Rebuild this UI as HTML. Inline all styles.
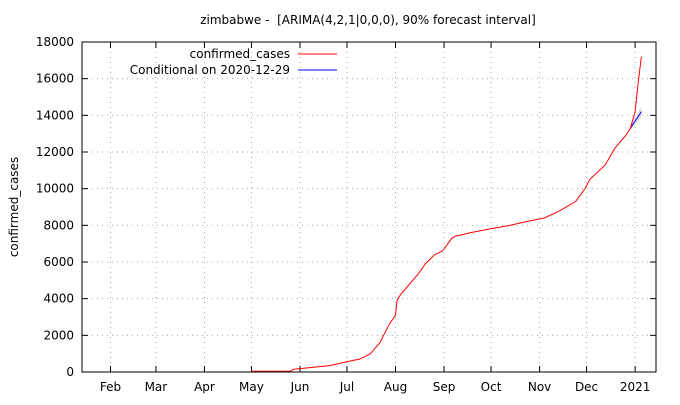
<!DOCTYPE html>
<html><head><meta charset="utf-8"><style>
body{margin:0;background:#fff}
svg text{font-family:"DejaVu Sans","Liberation Sans",sans-serif;font-size:12px;fill:#000}
</style></head><body>
<svg id="c" width="680" height="400"></svg>
<script>
const monthLabels=["Feb","Mar","Apr","May","Jun","Jul","Aug","Sep","Oct","Nov","Dec","2021"];
const monthDays=[0,29,60,90,121,151,182,213,243,274,304,335];
const yTicks=[0,2000,4000,6000,8000,10000,12000,14000,16000,18000];
const caseDays=[90,115,117,140,153,159,166,167,172,178,182,183,185,191,197,201,207,212,218,220,230,242,255,268,277,287,297,303,306,316,322,329,332,335,337,339];
const caseValues=[40,50,150,350,600,700,1000,1100,1600,2600,3100,3900,4200,4800,5400,5900,6400,6600,7300,7400,7600,7800,8000,8250,8400,8800,9300,10000,10500,11300,12200,12900,13300,14200,15800,17200];
const fcDays=[332,339];
const fcValues=[13300,14200];
const fcLow=[13200,13900];
const fcHigh=[13400,14500];
const L=82,R=656,T=42,B=372;
const X=d=>110.5+d*1.566, Y=v=>B-(v/18000)*(B-T);
const svg=document.getElementById('c');const NS='http://www.w3.org/2000/svg';
function mk(t,a,p){const e=document.createElementNS(NS,t);for(const k in a)e.setAttribute(k,a[k]);(p||svg).appendChild(e);return e;}
yTicks.forEach(v=>{
 const g=mk('line',{x1:L,x2:R,y1:Y(v),y2:Y(v),stroke:'#aaa','stroke-dasharray':'1,4'});
 
 
 mk('line',{x1:L,x2:L+6,y1:Y(v),y2:Y(v),stroke:'#000'});
 mk('line',{x1:R,x2:R-6,y1:Y(v),y2:Y(v),stroke:'#000'});
 const t=mk('text',{x:L-8,y:Y(v)+4,'text-anchor':'end'});t.textContent=v;
 
 
});
monthDays.forEach((d,i)=>{
 const x=X(d);
 const g=mk('line',{x1:x,x2:x,y1:T,y2:B,stroke:'#aaa','stroke-dasharray':'1,4'});
 
 
 mk('line',{x1:x,x2:x,y1:B,y2:B-6,stroke:'#000'});
 mk('line',{x1:x,x2:x,y1:T,y2:T+6,stroke:'#000'});
 const t=mk('text',{x:x,y:B+19,'text-anchor':'middle'});t.textContent=monthLabels[i];
 
 
});
const band=mk('polygon',{points:fcDays.map((d,i)=>X(d)+','+Y(fcHigh[i])).concat(fcDays.slice().reverse().map((d,j)=>{const i=fcDays.length-1-j;return X(d)+','+Y(fcLow[i]);})).join(' '),fill:'#ddd'});


const fc=mk('polyline',{points:fcDays.map((d,i)=>X(d)+','+Y(fcValues[i])).join(' '),fill:'none',stroke:'#00f'});


const cl=mk('polyline',{points:caseDays.map((d,i)=>X(d)+','+Y(caseValues[i])).join(' '),fill:'none',stroke:'#f00'});


const fr=mk('rect',{x:L,y:T,width:R-L,height:B-T,fill:'none',stroke:'#000'});


</script>
<svg width="680" height="400" style="position:absolute;left:0;top:0">
<text x="368" y="24" text-anchor="middle" xml:space="preserve">zimbabwe -  [ARIMA(4,2,1|0,0,0), 90% forecast interval]</text>
<text x="18" y="207" text-anchor="middle" transform="rotate(-90 18 207)">confirmed_cases</text>
<text x="290" y="58" text-anchor="end">confirmed_cases</text>
<line x1="298" x2="337" y1="54" y2="54" stroke="#f00"/>
<text x="290" y="74" text-anchor="end">Conditional on 2020-12-29</text>
<line x1="298" x2="337" y1="70" y2="70" stroke="#00f"/>
</svg>
</body></html>
